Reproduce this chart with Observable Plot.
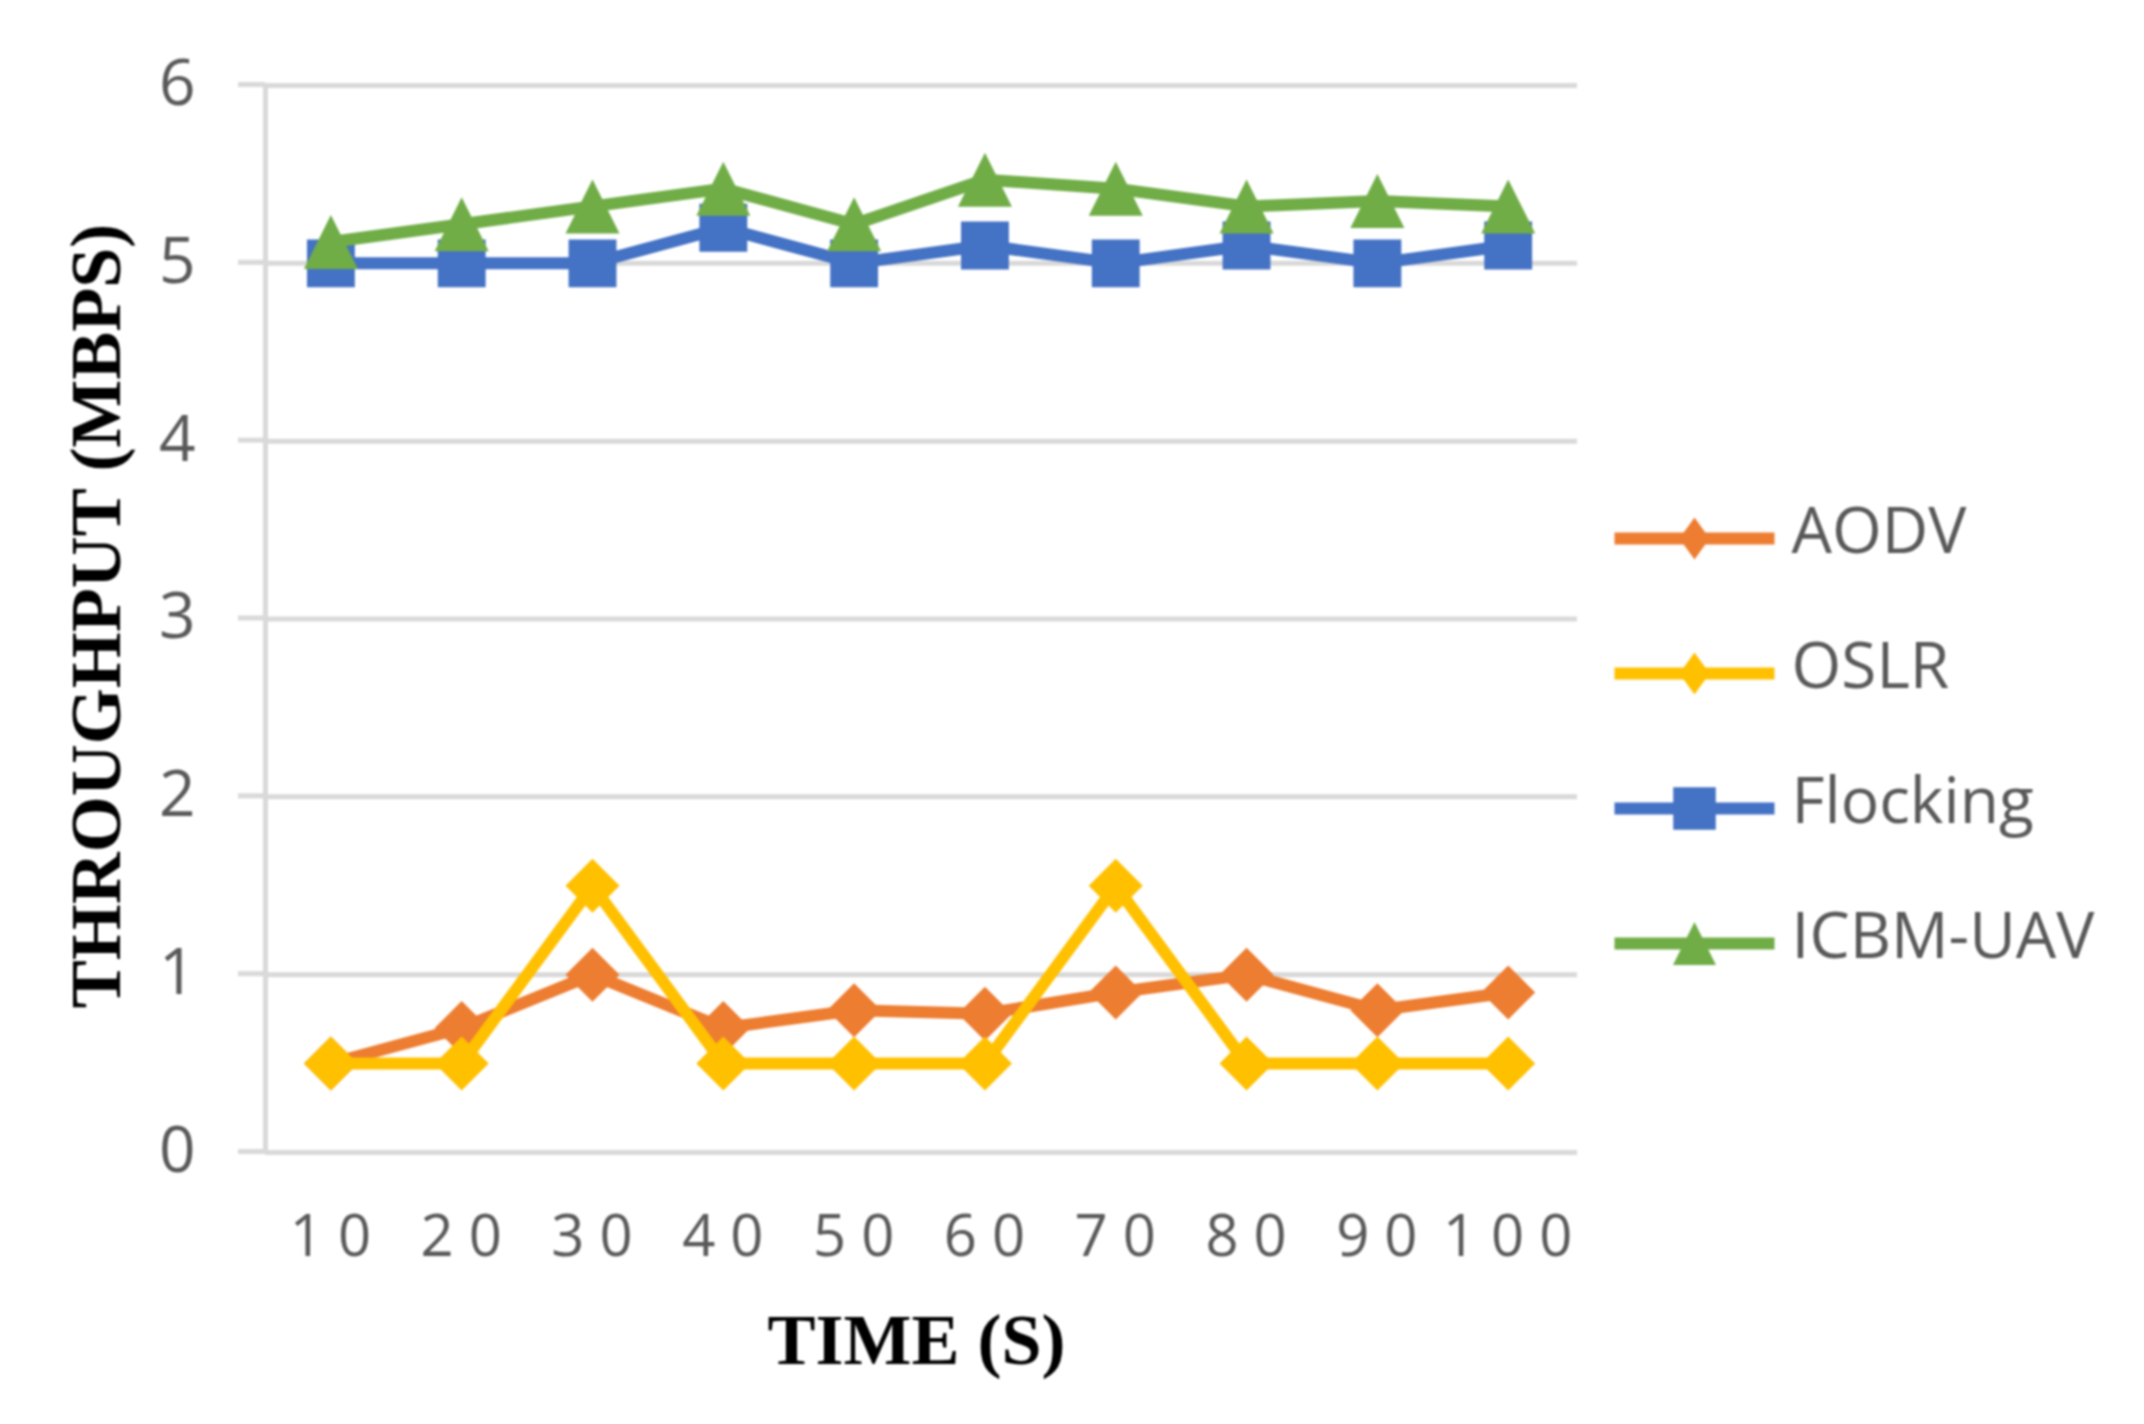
<!DOCTYPE html>
<html>
<head>
<meta charset="utf-8">
<script src="https://cdn.jsdelivr.net/npm/d3@7"></script>
<script src="https://cdn.jsdelivr.net/npm/@observablehq/plot@0.6"></script>
<style>
  html, body { margin: 0; padding: 0; background: #fff; }
  #chart { position: relative; width: 2144px; height: 1424px; overflow: hidden; filter: blur(1.1px); }
  #chart svg { position: absolute; left: 0; top: 0; background: transparent; }
  g[aria-label="x-axis tick label"] text { letter-spacing: 15px; }
  g[aria-label="x-title"] text { letter-spacing: -0.8px; word-spacing: 26px; }
  g[aria-label="y-title"] text { letter-spacing: -1.6px; word-spacing: 36px; }
</style>
</head>
<body>
<div id="chart"></div>
<script>
const times = [10, 20, 30, 40, 50, 60, 70, 80, 90, 100];
const yTicks = [0, 1, 2, 3, 4, 5, 6];
const aodv = [0.5, 0.7, 1.0, 0.7, 0.8, 0.78, 0.9, 1.0, 0.8, 0.9];
const oslr = [0.5, 0.5, 1.5, 0.5, 0.5, 0.5, 1.5, 0.5, 0.5, 0.5];
const flocking = [5.0, 5.0, 5.0, 5.2, 5.0, 5.1, 5.0, 5.1, 5.0, 5.1];
const icbm = [5.12, 5.22, 5.32, 5.42, 5.22, 5.47, 5.42, 5.32, 5.35, 5.32];
const names = ["AODV", "OSLR", "Flocking", "ICBM-UAV"];
const colors = ["#ED7D31", "#FFC000", "#4472C4", "#70AD47"];

const radius = s => Math.sqrt(s / Math.PI);
const diamond = { draw(c, s) { const r = radius(s); c.moveTo(0, -r); c.lineTo(r, 0); c.lineTo(0, r); c.lineTo(-r, 0); c.closePath(); } };
const slimDiamond = { draw(c, s) { const r = radius(s); c.moveTo(0, -r); c.lineTo(0.72 * r, 0); c.lineTo(0, r); c.lineTo(-0.72 * r, 0); c.closePath(); } };
const triangle = { draw(c, s) { const r = radius(s); c.moveTo(0, -r); c.lineTo(r, r); c.lineTo(-r, r); c.closePath(); } };

const series = [
  { name: names[0], values: aodv, color: colors[0], symbol: diamond, r: 27, legendSymbol: slimDiamond, legendR: 21 },
  { name: names[1], values: oslr, color: colors[1], symbol: diamond, r: 27, legendSymbol: slimDiamond, legendR: 21 },
  { name: names[2], values: flocking, color: colors[2], symbol: "square", r: 27, legendSymbol: "square", legendR: 24 },
  { name: names[3], values: icbm, color: colors[3], symbol: triangle, r: 27, legendSymbol: triangle, legendR: 21.5 }
];
const gridColor = "#d9d9d9";
const textColor = "#595959";
const sans = "'Open Sans', sans-serif";
const serif = "'Liberation Serif', serif";

const main = Plot.plot({
  width: 2144,
  height: 1424,
  marginTop: 85,
  marginBottom: 272,
  marginLeft: 265,
  marginRight: 567,
  style: { background: "transparent" },
  x: { type: "linear", domain: [5, 105.3] },
  y: { domain: [0, 6] },
  marks: [
    Plot.ruleY(yTicks, { stroke: gridColor, strokeWidth: 5 }),
    Plot.ruleX([5], { stroke: gridColor, strokeWidth: 5 }),
    Plot.axisY({
      ticks: yTicks, label: null, tickSize: 27, tickPadding: 43, stroke: gridColor, strokeWidth: 5,
      tickFormat: d => String(d),
      fontSize: 64, fontFamily: sans, fill: textColor, dy: -1, strokeOpacity: 1
    }),
    Plot.axisX({
      ticks: times, label: null, tickSize: 0, tickPadding: 62, tickFormat: d => String(d),
      fontSize: 58, fontFamily: sans, fill: textColor, dx: 7
    }),
    ...series.flatMap(s => {
      const rows = times.map((t, i) => ({ t, v: s.values[i] }));
      return [
        Plot.line(rows, { x: "t", y: "v", stroke: s.color, strokeWidth: 12, strokeLinecap: "butt" }),
        Plot.dot(rows, { x: "t", y: "v", fill: s.color, stroke: "none", symbol: s.symbol, r: s.r })
      ];
    }),
    Plot.text(["TIME (S)"], {
      frameAnchor: "bottom", lineAnchor: "middle", textAnchor: "middle", dx: -5, dy: 188,
      fontFamily: serif, fontWeight: "bold", fontSize: 72, fill: "#000", ariaLabel: "x-title"
    }),
    Plot.text(["THROUGHPUT (MBPS)"], {
      frameAnchor: "left", lineAnchor: "middle", textAnchor: "middle", rotate: -90, dx: -169, dy: -3,
      fontFamily: serif, fontWeight: "bold", fontSize: 72, fill: "#000", ariaLabel: "y-title"
    })
  ]
});

const legendEnds = [0, 1];
const legend = Plot.plot({
  width: 2144,
  height: 1424,
  marginTop: 537,
  marginBottom: 480,
  marginLeft: 1624,
  marginRight: 360,
  style: { background: "transparent" },
  axis: null,
  x: { type: "linear", domain: legendEnds, axis: null, range: [1624 - 10, 1784 - 10] },
  y: { type: "point", padding: 0, domain: names, axis: null },
  marks: series.flatMap(s => [
    Plot.line(legendEnds.map(x => ({ x, name: s.name })), { x: "x", y: "name", stroke: s.color, strokeWidth: 12, strokeLinecap: "butt" }),
    Plot.dot([{ x: 0.5, name: s.name }], { x: "x", y: "name", fill: s.color, stroke: "none", symbol: s.legendSymbol, r: s.legendR }),
    Plot.text([{ x: 1, name: s.name }], {
      x: "x", y: "name", text: "name", textAnchor: "start", dx: 17, dy: -6,
      fontSize: 64, fontFamily: sans, fill: textColor
    })
  ])
});

const host = document.getElementById("chart");
host.appendChild(main);
host.appendChild(legend);
</script>
</body>
</html>
